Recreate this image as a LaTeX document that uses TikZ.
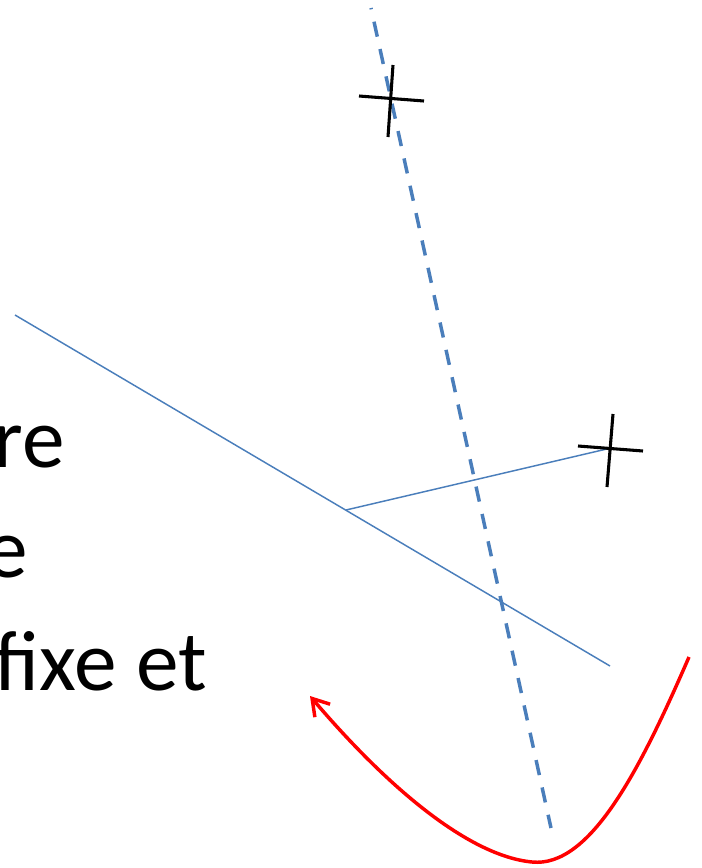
\documentclass[tikz,border=0pt]{standalone}
\usepackage{fontspec}
\setmainfont{Carlito}
\usepackage{xcolor}
\usepackage{tikz}
\usetikzlibrary{arrows.meta}
\definecolor{axisblue}{RGB}{74,126,187}

\begin{document}
\begin{tikzpicture}[
        x=0.75pt, y=-0.75pt,
        every node/.style={font=\fontsize{64}{80}\selectfont, inner sep=0pt},
        axisline/.style={draw=axisblue, line width=2.6pt, dash pattern=on 11.5pt off 9.5pt, dash phase=10.5pt},
        thinline/.style={draw=axisblue, line width=1.1pt},
        crossbar/.style={draw=black, line width=2.3pt},
        motion/.style={draw=red, line width=2.6pt, -{Straight Barb[length=12pt, width=15pt]}},
    ]

    %% ===== Frame =====
    \clip (0,0) rectangle (702,868);

    %% ===== Text (cut at the left edge) =====
    \node[anchor=base east] (lineA) at (65,467) {re};
    \node[anchor=base east] (lineB) at (28,577) {e};
    \node[anchor=base east] (lineC) at (207,690) {fixe et};

    %% ===== Dashed axis =====
    \coordinate (axtop) at (371,8);
    \coordinate (axbot) at (551,828);
    \draw[axisline] (axtop) -- (axbot);

    %% ===== Solid lines =====
    \coordinate (lstart) at (15,315);
    \coordinate (lend) at (610,666);
    \coordinate (foot) at (346,510);
    \coordinate (ptB) at (611,448);
    \draw[thinline] (lstart) -- (lend);
    \draw[thinline] (foot) -- (ptB);

    %% ===== Crosses =====
    \coordinate (ptA) at (391,99);
    \draw[crossbar] (359,96) -- (424,101);
    \draw[crossbar] (393,65) -- (388,137);
    \draw[crossbar] (578,446) -- (643,451);
    \draw[crossbar] (613,414) -- (607,487);

    %% ===== Rotation arrow =====
    \coordinate (rstart) at (689,657);
    \coordinate (rlow) at (532,862);
    \coordinate (rtip) at (310,696);
    \draw[motion] (rstart) .. controls (640,770) and (590,868) .. (rlow)
        .. controls (470,856) and (390,790) .. (rtip);

\end{tikzpicture}
\end{document}
